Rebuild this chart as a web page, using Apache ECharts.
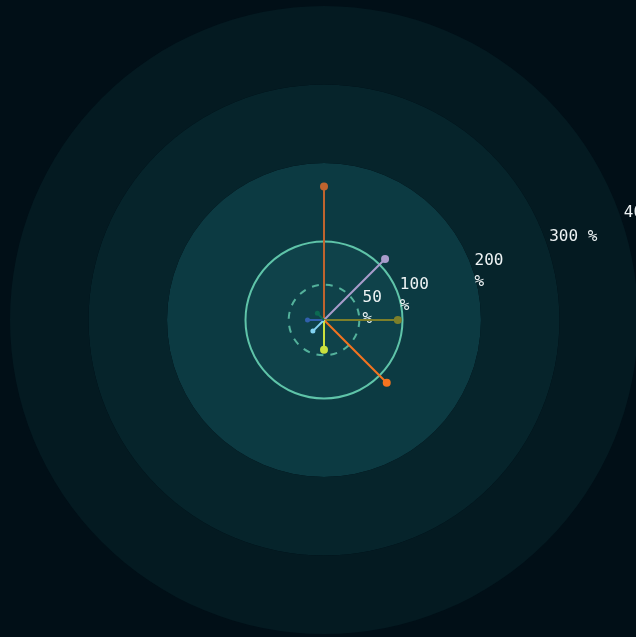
<!DOCTYPE html>
<html>
<head>
<meta charset="utf-8">
<script src="https://cdn.jsdelivr.net/npm/echarts@6/dist/echarts.min.js"></script>
<style>
html,body{margin:0;padding:0;background:#010f17;}
#main{width:636px;height:637px;}
</style>
</head>
<body>
<div id="main"></div>
<script>
// Spoke directions (degrees, counter-clockwise from east) and values (%)
const angles = [90, 45, 0, 315, 270, 225, 180, 135];
const values = [170, 110, 94, 113, 38, 20, 21, 12];
const colors = ['#bf642e', '#a99ccb', '#7d7f2a', '#f4731f', '#cbe03e', '#83d3f2', '#3160ad', '#0c6a52'];
// Radius tick labels
const tickValues = [50, 100, 200, 300, 400];
const tickLabels = ['50\n%', '100\n%', '200\n%', '300 %', '400 %'];
const refValue = 45;   // dashed reference circle
const solidValue = 100; // solid reference circle

const chart = echarts.init(document.getElementById('main'), null, {renderer: 'canvas'});
const center = [324, 320];
const R = 314;
const hiddenAngle = (idx, start) => ({
  polarIndex: idx, type: 'value', min: 0, max: 360, startAngle: start, clockwise: false,
  axisLine: {show: false}, axisTick: {show: false}, axisLabel: {show: false}, splitLine: {show: false}
});
const oneCircle = (n) => { const arr = []; for (let i = 0; i < n; i++) arr.push(i === 1 ? '#5fc4a9' : 'transparent'); return arr; };

const series = angles.map((a, i) => ({
  type: 'line', coordinateSystem: 'polar', polarIndex: 0,
  data: [[0, a], [values[i], a]],
  symbol: 'circle',
  symbolSize: (v, p) => p.dataIndex === 1 ? (values[i] < 30 ? 5 : 8) : 0,
  showSymbol: true,
  lineStyle: {color: colors[i], width: 2},
  itemStyle: {color: colors[i]},
  silent: true, z: 5
}));

chart.setOption({
  backgroundColor: '#010f17',
  animation: false,
  polar: [
    {center: center, radius: R},
    {center: center, radius: R},
    {center: center, radius: R},
    {center: center, radius: R}
  ],
  angleAxis: [hiddenAngle(0, 0), hiddenAngle(1, 0), hiddenAngle(2, 18), hiddenAngle(3, 0)],
  radiusAxis: [
    {
      polarIndex: 0, type: 'value', min: 0, max: 400, interval: 100,
      axisLine: {show: false}, axisTick: {show: false}, axisLabel: {show: false},
      splitArea: {show: true, areaStyle: {color: ['#0f424a', '#0c3a42', '#06242b', '#041a21']}},
      splitLine: {show: false}
    },
    {
      polarIndex: 1, type: 'value', min: 0, max: 400, interval: refValue,
      axisLine: {show: false}, axisTick: {show: false}, axisLabel: {show: false},
      splitLine: {show: true, lineStyle: {color: oneCircle(10), width: 2, type: [7, 7], opacity: 0.85}}
    },
    {
      polarIndex: 2, type: 'value', min: 0, max: 400, interval: 50,
      axisLine: {show: false}, axisTick: {show: false}, splitLine: {show: false},
      axisLabel: {
        show: true, margin: 22,
        color: '#eef3f4', fontFamily: 'DejaVu Sans Mono', fontSize: 16, lineHeight: 21,
        align: 'left', verticalAlign: 'top', padding: [0, 0, 0, 8],
        formatter: v => { const k = tickValues.indexOf(v); return k >= 0 ? tickLabels[k] : ''; }
      }
    },
    {
      polarIndex: 3, type: 'value', min: 0, max: 400, interval: solidValue,
      axisLine: {show: false}, axisTick: {show: false}, axisLabel: {show: false},
      splitLine: {show: true, lineStyle: {color: oneCircle(5), width: 2}}
    }
  ],
  series: series
});
</script>
</body>
</html>
